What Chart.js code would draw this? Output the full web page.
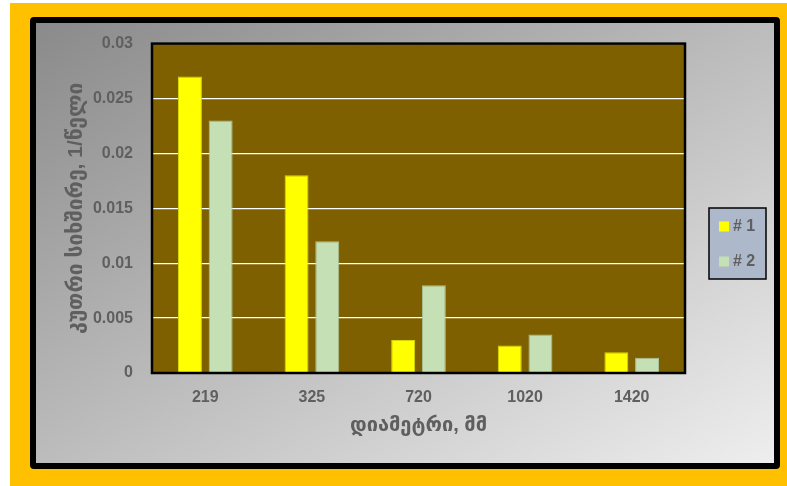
<!DOCTYPE html>
<html>
<head>
<meta charset="utf-8">
<script src="https://cdn.jsdelivr.net/npm/chart.js@4/dist/chart.umd.min.js"></script>
<style>
  body { margin: 0; background: #fff; width: 787px; height: 486px; overflow: hidden; }
  #frame { position: absolute; left: 10px; top: 3px; width: 777px; height: 483px; background: #FFC000; }
  #card {
    position: absolute; left: 20px; top: 14px; width: 738px; height: 440px;
    border: 6px solid #000; border-radius: 4px;
    background: linear-gradient(to bottom right, #8a8a8a, #eeeeee);
  }
  #chart { position: absolute; left: 0; top: -8px; }
</style>
</head>
<body>
<div id="frame">
  <div id="card">
    <canvas id="chart" width="738" height="448"></canvas>
  </div>
</div>
<script>
// data
const categories = ['219', '325', '720', '1020', '1420'];
const seriesNames = ['# 1', '# 2'];
const series1 = [0.027, 0.018, 0.003, 0.0025, 0.0019];
const series2 = [0.023, 0.012, 0.008, 0.0035, 0.0014];
const yTicks = [0, 0.005, 0.01, 0.015, 0.02, 0.025, 0.03];

const textColor = '#5f5f5f';
const fam = "'Liberation Sans', 'DejaVu Sans', sans-serif";
const tickFont = { family: fam, size: 16, weight: 'bold' };

// plot area fill + border
const plotArea = {
  id: 'plotArea',
  beforeDraw(chart) {
    const a = chart.chartArea, ctx = chart.ctx;
    ctx.save();
    ctx.fillStyle = '#7F6000';
    ctx.fillRect(a.left, a.top, a.right - a.left, a.bottom - a.top);
    ctx.restore();
  },
  afterDatasetsDraw(chart) {
    const a = chart.chartArea, ctx = chart.ctx;
    ctx.save();
    ctx.strokeStyle = '#000';
    ctx.lineWidth = 2.5;
    ctx.strokeRect(a.left, a.top, a.right - a.left, a.bottom - a.top);
    ctx.restore();
  }
};

// boxed legend on the right
const boxLegend = {
  id: 'boxLegend',
  afterDraw(chart) {
    const ctx = chart.ctx;
    const x = 673, y = 193, w = 57, h = 71;
    ctx.save();
    ctx.fillStyle = '#ADB9CA';
    ctx.fillRect(x, y, w, h);
    ctx.strokeStyle = '#000';
    ctx.lineWidth = 1.5;
    ctx.strokeRect(x, y, w, h);
    chart.data.datasets.forEach((ds, i) => {
      const cy = 211.5 + i * 35;
      ctx.fillStyle = ds.backgroundColor;
      ctx.fillRect(x + 10, cy - 5, 10, 10);
      ctx.fillStyle = textColor;
      ctx.font = 'bold 16px "Liberation Sans", sans-serif';
      ctx.textBaseline = 'middle';
      ctx.textAlign = 'left';
      ctx.fillText(ds.label, x + 24, cy);
    });
    ctx.restore();
  }
};

new Chart(document.getElementById('chart'), {
  type: 'bar',
  data: {
    labels: categories,
    datasets: [
      { label: seriesNames[0], data: series1, backgroundColor: '#FFFF00', borderColor: '#d6d600', borderWidth: 1 },
      { label: seriesNames[1], data: series2, backgroundColor: '#C5E0B4', borderColor: '#a9c29b', borderWidth: 1 }
    ]
  },
  options: {
    responsive: false,
    animation: false,
    categoryPercentage: 0.576,
    barPercentage: 0.78,
    layout: { padding: { top: 12, right: 89, bottom: 0, left: 28 } },
    plugins: { legend: { display: false }, tooltip: { enabled: false } },
    scales: {
      x: {
        grid: { display: false, drawTicks: false },
        border: { display: false },
        ticks: { color: textColor, font: tickFont, padding: 15 },
        title: { display: true, text: 'დიამეტრი, მმ', color: textColor, font: { family: fam, size: 20, weight: 'bold' }, padding: { top: 0, bottom: 26 } },
        afterFit(scale) { scale.height = 90; }
      },
      y: {
        min: 0,
        max: 0.03,
        afterBuildTicks(scale) { scale.ticks = yTicks.map(v => ({ value: v })); },
        grid: { color: '#ffffff', lineWidth: 1.2, drawTicks: false },
        border: { display: false },
        ticks: { color: textColor, font: tickFont, padding: 19, callback: v => String(+v.toFixed(4)) },
        title: { display: true, text: 'კუთრი სიხშირე, 1/წელი', color: textColor, font: { family: fam, size: 21, weight: 'bold' }, padding: { top: 0, bottom: 0 } },
        afterFit(scale) { scale.width = 88; }
      }
    }
  },
  plugins: [plotArea, boxLegend]
});
</script>
</body>
</html>
